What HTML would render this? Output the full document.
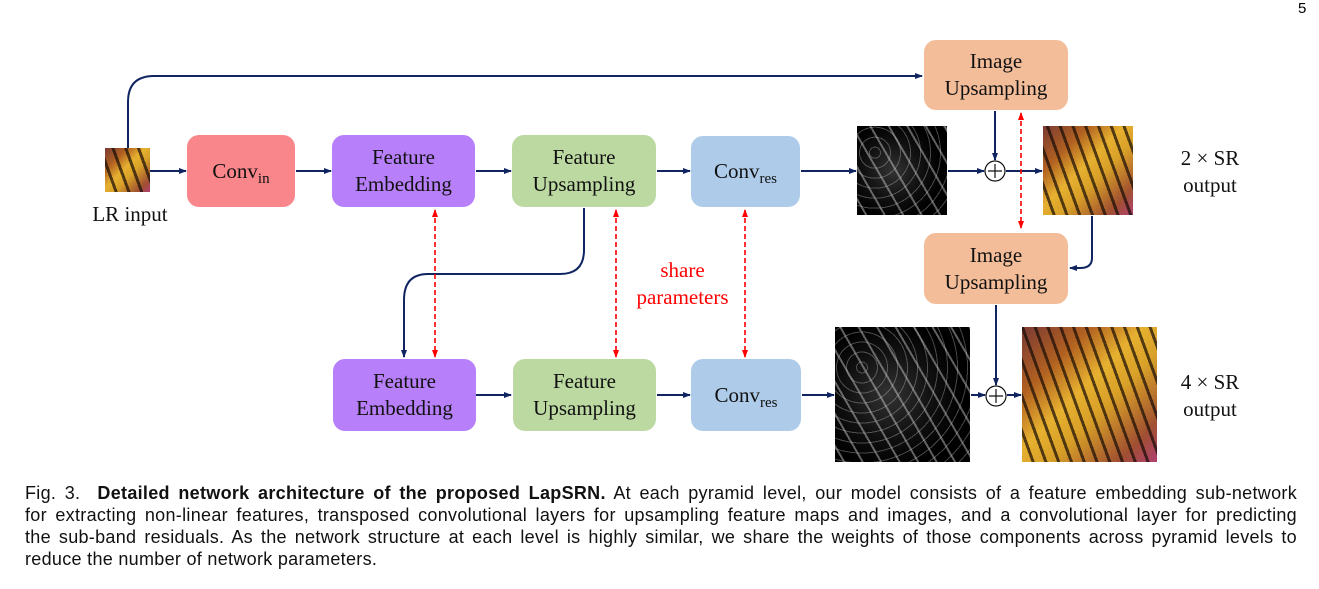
<!DOCTYPE html>
<html><head><meta charset="utf-8"><style>
body{margin:0;background:#fff;width:1319px;height:589px;position:relative;overflow:hidden;font-family:"Liberation Serif",serif}
.b{position:absolute;border-radius:12px;display:flex;align-items:center;justify-content:center;text-align:center;font-size:21px;line-height:27px;color:#111}
.t{position:absolute;font-size:21px;line-height:27px;text-align:center;color:#111}
sub{font-size:15px;vertical-align:-5px;line-height:0}
.cap{position:absolute;left:25px;top:482px;width:1272px;font-family:"Liberation Sans",sans-serif;font-size:18px;line-height:22px;color:#111;letter-spacing:0.3px}
.cap div{text-align:justify;text-align-last:justify;white-space:nowrap}
.cap div.l{text-align-last:left}
.res{position:absolute;background:radial-gradient(circle at 40% 50%,#333 0,#111 40%,#000 70%);}
.res::after{content:"";position:absolute;inset:0;background:repeating-linear-gradient(60deg,transparent 0 7px,rgba(210,210,210,.45) 7px 9px,transparent 9px 16px),repeating-radial-gradient(circle at 20% 30%,transparent 0 5px,rgba(200,200,200,.35) 5px 6px,transparent 6px 10px)}
.bf{position:absolute;background:linear-gradient(135deg,#7a3a35 0,#b06020 25%,#e6b030 45%,#d8a028 60%,#a05030 85%,#b04070 100%)}
.bf::after{content:"";position:absolute;inset:0;background:repeating-linear-gradient(70deg,transparent 0 9px,rgba(20,10,5,.7) 9px 12px)}
</style></head><body>
<div style="position:absolute;left:1298px;top:0px;font-family:'Liberation Sans',sans-serif;font-size:15px">5</div>
<svg width="1319" height="589" style="position:absolute;left:0;top:0">
<defs>
<marker id="a" markerWidth="8" markerHeight="8" refX="7" refY="4" orient="auto" markerUnits="userSpaceOnUse"><path d="M0,1 L8,4 L0,7z" fill="#0f2460"/></marker>
<marker id="r" markerWidth="8" markerHeight="8" refX="7" refY="4" orient="auto-start-reverse" markerUnits="userSpaceOnUse"><path d="M0,1 L8,4 L0,7z" fill="#f00"/></marker>
</defs>
<g stroke="#0f2460" stroke-width="2" fill="none" marker-end="url(#a)">
<path d="M128,148 V102 Q128,76 154,76 H922"/>
<path d="M150,171 H186"/>
<path d="M296,171 H331"/>
<path d="M476,171 H511"/>
<path d="M657,171 H690"/>
<path d="M801,171 H856"/>
<path d="M948,171 H984"/>
<path d="M1006,171 H1042"/>
<path d="M995,111 V160"/>
<path d="M584,208 V250 Q584,274 560,274 H428 Q404,274 404,300 V357"/>
<path d="M1092,216 V258 Q1092,268 1080,268 H1070"/>
<path d="M476,395 H511"/>
<path d="M657,395 H690"/>
<path d="M802,395 H834"/>
<path d="M971,395 H985"/>
<path d="M1007,395 H1021"/>
<path d="M996,305 V385"/>
</g>
<g stroke="#f00" stroke-width="1.6" stroke-dasharray="5,3" fill="none" marker-start="url(#r)" marker-end="url(#r)">
<path d="M435,210 V357"/><path d="M616,210 V357"/><path d="M745,210 V357"/><path d="M1021,113 V228"/>
</g>
<g stroke="#111" stroke-width="1.2" fill="#fff">
<circle cx="995" cy="171" r="10"/><circle cx="996" cy="396" r="10"/>
<path d="M988,171 H1002 M995,164 V178 M989,396 H1003 M996,389 V403"/>
</g>
</svg>
<div class="bf" style="left:105px;top:148px;width:45px;height:44px"></div>
<div class="t" style="left:80px;top:201px;width:100px">LR input</div>
<div class="b" style="left:187px;top:135px;width:108px;height:72px;background:#f8868a"><span>Conv<sub>in</sub></span></div>
<div class="b" style="left:332px;top:135px;width:143px;height:72px;background:#b780fa">Feature<br>Embedding</div>
<div class="b" style="left:512px;top:135px;width:144px;height:72px;background:#bcd9a2">Feature<br>Upsampling</div>
<div class="b" style="left:691px;top:136px;width:109px;height:71px;background:#aecce9"><span>Conv<sub>res</sub></span></div>
<div class="b" style="left:333px;top:359px;width:143px;height:72px;background:#b780fa">Feature<br>Embedding</div>
<div class="b" style="left:513px;top:359px;width:143px;height:72px;background:#bcd9a2">Feature<br>Upsampling</div>
<div class="b" style="left:691px;top:359px;width:110px;height:72px;background:#aecce9"><span>Conv<sub>res</sub></span></div>
<div class="b" style="left:924px;top:40px;width:144px;height:70px;background:#f3bd9a">Image<br>Upsampling</div>
<div class="b" style="left:924px;top:233px;width:144px;height:71px;background:#f3bd9a">Image<br>Upsampling</div>
<div class="res" style="left:857px;top:126px;width:90px;height:89px"></div>
<div class="bf" style="left:1043px;top:126px;width:90px;height:89px"></div>
<div class="res" style="left:835px;top:327px;width:135px;height:135px"></div>
<div class="bf" style="left:1022px;top:327px;width:135px;height:135px"></div>
<div class="t" style="left:1150px;top:145px;width:120px">2 × SR<br>output</div>
<div class="t" style="left:1150px;top:369px;width:120px">4 × SR<br>output</div>
<div class="t" style="left:620px;top:257px;width:125px;color:#f00">share<br>parameters</div>
<div class="cap">
<div>Fig. 3.&nbsp; <b>Detailed network architecture of the proposed LapSRN.</b> At each pyramid level, our model consists of a feature embedding sub-network</div>
<div>for extracting non-linear features, transposed convolutional layers for upsampling feature maps and images, and a convolutional layer for predicting</div>
<div>the sub-band residuals. As the network structure at each level is highly similar, we share the weights of those components across pyramid levels to</div>
<div class="l">reduce the number of network parameters.</div>
</div>
</body></html>
